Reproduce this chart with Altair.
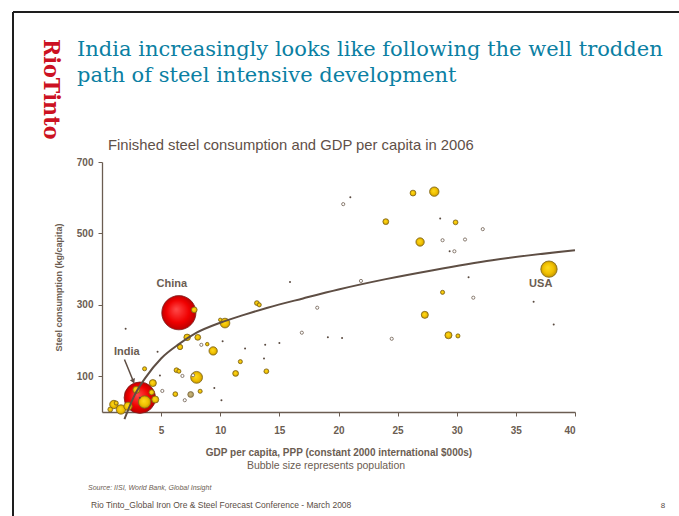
import altair as alt
import pandas as pd

# ---- Data: GDP per capita (PPP, $000s), steel use (kg/capita), population (m) ----
# Large highlighted economies
red_name = ["China", "India"]
red_gdp = [6.5, 3.2]
red_steel = [278, 40]
red_pop = [1310, 1110]

# Other sizeable economies (gold bubbles)
gold_gdp = [37.8, 7.8, 7.2, 8.1, 6.6, 8.9, 9.4, 10.4, 10.0, 13.1, 13.3, 13.9, 11.7,
            11.3, 8.0, 8.3, 6.2, 6.3, 6.5, 3.6, 4.3, 4.2, 4.5, 2.9, 3.6, 1.0, 0.7,
            1.6, 2.2, 1.2, 26.3, 28.1, 24.0, 29.9, 26.9, 28.8, 27.3, 29.3, 30.1]
gold_steel = [400, 286, 209, 209, 182, 190, 171, 249, 258, 305, 300, 114, 141,
              108, 97, 58, 50, 117, 114, 121, 81, 55, 35, 62, 28, 21, 7,
              7, 16, 25, 613, 617, 533, 531, 476, 335, 272, 215, 213]
gold_pop = [300, 38, 48, 38, 32, 14, 78, 106, 14, 26, 19, 26, 19,
            38, 158, 19, 26, 26, 19, 19, 56, 32, 56, 56, 172, 78, 26,
            99, 78, 19, 38, 99, 38, 26, 78, 19, 56, 56, 19]

# One muted bubble
tan_gdp = [7.5]
tan_steel = [49]
tan_pop = [38]

# Small economies: open markers and dots
open_gdp = [8.4, 18.2, 16.9, 7.0, 6.8, 5.1, 20.4, 32.2, 28.8, 30.7, 29.8, 21.9, 31.4, 24.5, 7.7]
open_steel = [188, 292, 222, 33, 101, 59, 582, 512, 481, 483, 450, 367, 320, 205, 103]

dot_gdp = [10.2, 15.9, 15.0, 13.8, 13.7, 12.1, 9.5, 10.1, 4.9, 4.7, 2.0, 21.0,
           28.6, 29.4, 31.0, 36.5, 38.2, 19.1, 20.3, 3.2]
dot_steel = [198, 364, 193, 188, 150, 178, 67, 33, 102, 169, 233, 601,
             542, 450, 377, 309, 245, 209, 207, 40]

# Fitted intensity curve, read along its path
trend_gdp = [1.9, 2.8, 3.65, 5.0, 6.5, 8.0, 10.0, 12.0, 14.0, 17.0, 20.0, 24.0, 28.0, 33.0, 40.0]
trend_steel = [-20, 50, 95, 150, 190, 222, 250, 272, 292, 318, 343, 372, 397, 425, 453]

# Country call-outs
label_name = ["China", "India", "USA"]
label_gdp = [5.9, 2.1, 37.1]
label_steel = [359, 169, 359]

arrow_gdp = [1.9, 2.65]
arrow_steel = [147, 86]

x_ticks = [5, 10, 15, 20, 25, 30, 35, 40]
y_ticks = [100, 300, 500, 700]

# ---- Styling ----
INK = "#6b5d52"
SANS = "Liberation Sans"
SERIF = "DejaVu Serif"
W, H = 473, 250
LEFT, TOP = 102, 162

red_df = pd.DataFrame({"name": red_name, "gdp": red_gdp, "steel": red_steel, "pop": red_pop})
gold_df = pd.DataFrame({"gdp": gold_gdp, "steel": gold_steel, "pop": gold_pop})
tan_df = pd.DataFrame({"gdp": tan_gdp, "steel": tan_steel, "pop": tan_pop})
open_df = pd.DataFrame({"gdp": open_gdp, "steel": open_steel})
dot_df = pd.DataFrame({"gdp": dot_gdp, "steel": dot_steel})
trend_df = pd.DataFrame({"gdp": trend_gdp, "steel": trend_steel})
label_df = pd.DataFrame({"name": label_name, "gdp": label_gdp, "steel": label_steel})
arrow_df = pd.DataFrame({"gdp": arrow_gdp, "steel": arrow_steel})

x_enc = alt.X(
    "gdp:Q",
    scale=alt.Scale(domain=[0, 40], nice=False, zero=True),
    axis=alt.Axis(
        values=x_ticks, title="GDP per capita, PPP (constant 2000 international $000s)",
        titleFont=SANS, titleFontSize=10, titleFontWeight="bold", titleColor=INK,
        titleY=40, titleBaseline="middle",
        labelFont=SANS, labelFontSize=10, labelFontWeight="bold", labelColor=INK,
        labelPadding=9, tickSize=4, tickColor=INK, domainColor=INK, domainWidth=1.3,
        grid=False,
    ),
)
y_enc = alt.Y(
    "steel:Q",
    scale=alt.Scale(domain=[0, 700], nice=False),
    axis=alt.Axis(
        values=y_ticks, title="Steel consumption (kg/capita)",
        titleFont=SANS, titleFontSize=9, titleFontWeight="bold", titleColor=INK,
        titleX=-44, titleY=H / 2, titleAngle=-90, titleAlign="center", titleBaseline="middle",
        labelFont=SANS, labelFontSize=10, labelFontWeight="bold", labelColor=INK,
        labelPadding=5, tickSize=4, tickColor=INK, domainColor=INK, domainWidth=1.3,
        grid=False,
    ),
)
size_enc = alt.Size("pop:Q", scale=alt.Scale(type="linear", domain=[0, 1310], range=[0, 1170]), legend=None)


def shaded(inner, mid, outer):
    return {
        "gradient": "radial",
        "x1": 0.42, "y1": 0.4, "r1": 0,
        "x2": 0.5, "y2": 0.5, "r2": 0.55,
        "stops": [
            {"offset": 0, "color": inner},
            {"offset": 0.6, "color": mid},
            {"offset": 1, "color": outer},
        ],
    }


red = alt.Chart(red_df).mark_circle(
    fill=shaded("#ff4a4a", "#f00000", "#b00000"), stroke="#7a2020", strokeWidth=0.8, opacity=1
).encode(x=x_enc, y=y_enc, size=size_enc)

gold = alt.Chart(gold_df).mark_circle(
    fill=shaded("#ffdc20", "#f0bf00", "#b68a00"), stroke="#7d6418", strokeWidth=0.8, opacity=1
).encode(x=x_enc, y=y_enc, size=size_enc)

tan = alt.Chart(tan_df).mark_circle(
    fill=shaded("#cdbb80", "#b8a468", "#95824a"), stroke="#7d6b45", strokeWidth=0.8, opacity=1
).encode(x=x_enc, y=y_enc, size=size_enc)

trend = alt.Chart(trend_df).mark_line(
    color="#5e4e44", strokeWidth=2, interpolate="monotone", clip=False
).encode(x=x_enc, y=y_enc, order="gdp:Q")

opens = alt.Chart(open_df).mark_point(
    shape="circle", size=10, filled=False, fill="white", stroke="#6e5e50", strokeWidth=0.8, opacity=1
).encode(x=x_enc, y=y_enc)

dots = alt.Chart(dot_df).mark_circle(size=4, color="#5a4a40", opacity=1).encode(x=x_enc, y=y_enc)

labels = alt.Chart(label_df).mark_text(
    font=SANS, fontSize=11, fontWeight="bold", color=INK
).encode(x=x_enc, y=y_enc, text="name:N")

arrow_line = alt.Chart(arrow_df).mark_line(color="#5e4e44", strokeWidth=1.5).encode(
    x=x_enc, y=y_enc, order="steel:Q"
)
arrow_head = alt.Chart(arrow_df.tail(1)).mark_point(
    shape="triangle-up", size=30, angle=157, filled=True, color="#5e4e44", opacity=1
).encode(x=x_enc, y=y_enc)

one = pd.DataFrame({"k": [0]})


def note(text, px, py, **kw):
    style = dict(font=SANS, fontSize=10, color=INK, align="left", baseline="middle")
    style.update(kw)
    return alt.Chart(one).mark_text(text=text, **style).encode(
        x=alt.value(px - LEFT), y=alt.value(py - TOP)
    )


title = note(
    ["India increasingly looks like following the well trodden",
     "path of steel intensive development"],
    77, 56, font=SERIF, fontSize=21, color="#0b7fa3", baseline="alphabetic", lineHeight=26,
)
logo = note("RioTinto", 51, 39, font="DejaVu Serif Condensed, DejaVu Serif", fontSize=23,
            fontWeight="bold", color="#cc1122", angle=90, align="left", baseline="middle")
subtitle = note("Finished steel consumption and GDP per capita in 2006", 108, 146,
                fontSize=14.8, color="#5f5048")
bubble_note = note("Bubble size represents population", 326, 466, fontSize=10.5, align="center")
source = note("Source: IISI, World Bank, Global Insight", 88, 488, fontSize=7, fontStyle="italic")
footer = note("Rio Tinto_Global Iron Ore & Steel Forecast Conference - March 2008", 91, 505,
              fontSize=8.5, color="#5a4d45")
page_no = note("8", 663, 506, fontSize=8, color="#5a4d45", align="center")

frame_left = alt.Chart(one).mark_rule(color="#1e1e1e", strokeWidth=2).encode(
    x=alt.value(13 - LEFT), y=alt.value(12 - TOP), y2=alt.value(516 - TOP + 5)
)
frame_top = alt.Chart(one).mark_rule(color="#1e1e1e", strokeWidth=2).encode(
    x=alt.value(13 - LEFT), x2=alt.value(679 - LEFT + 5), y=alt.value(12 - TOP)
)

chart = alt.layer(
    red, gold, tan, trend, opens, dots, labels, arrow_line, arrow_head,
    title, logo, subtitle, bubble_note, source, footer, page_no, frame_left, frame_top,
).properties(
    width=W, height=H,
    autosize=alt.AutoSizeParams(type="none"),
    padding={"left": LEFT, "top": TOP, "right": 679 - LEFT - W, "bottom": 516 - TOP - H},
    background="white",
).configure_view(stroke=None)

chart.save("out.html", embed_options={"renderer": "svg", "actions": False})
